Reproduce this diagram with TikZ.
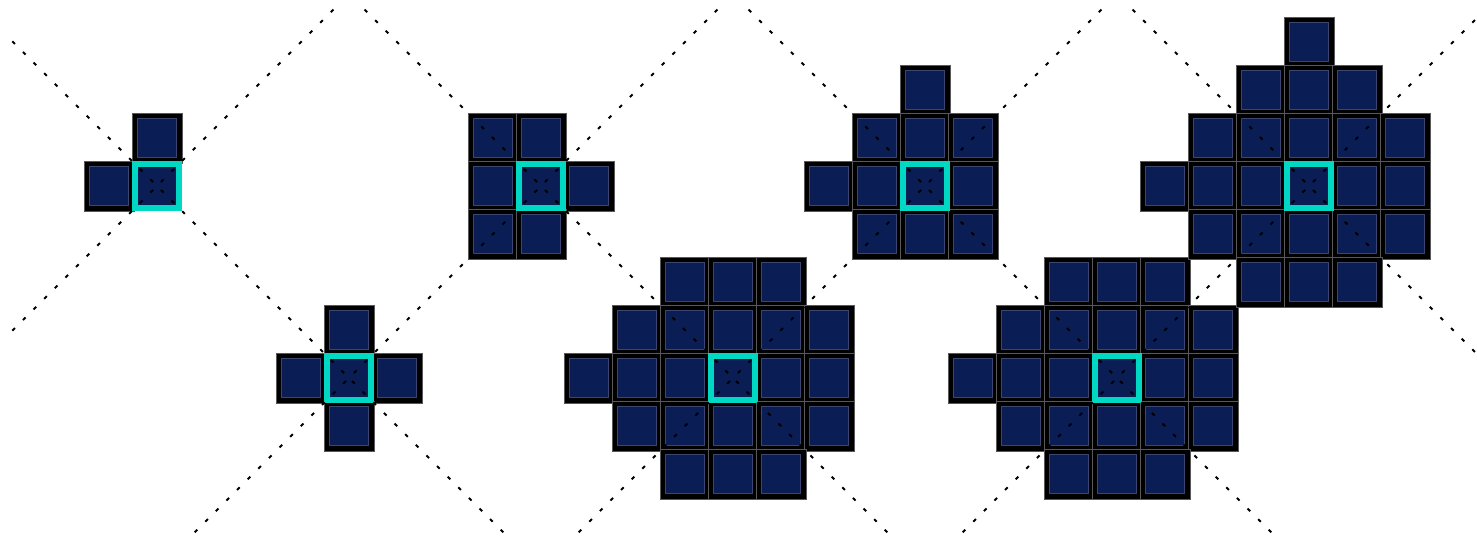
\documentclass[tikz,border=0pt]{standalone}
\usepackage{xcolor}
\usepackage{tikz}
\usetikzlibrary{positioning}

\definecolor{cellnavy}{RGB}{10,29,84}
\definecolor{celledge}{RGB}{58,70,112}
\definecolor{focus}{RGB}{0,216,196}

% offsets of the neighbour cells (x/y in cells, y up)
\newcommand{\crossnb}{0/1,-1/0,1/0,0/-1}
\newcommand{\hooknb}{-1/1,0/1,-1/0,1/0,-1/-1,0/-1}
\newcommand{\kitenb}{0/2,-1/1,0/1,1/1,-2/0,-1/0,1/0,-1/-1,0/-1,1/-1}
\newcommand{\blobnb}{-1/2,0/2,1/2,-2/1,-1/1,0/1,1/1,2/1,-3/0,-2/0,-1/0,1/0,2/0,-2/-1,-1/-1,0/-1,1/-1,2/-1,-1/-2,0/-2,1/-2}

\begin{document}
\begin{tikzpicture}[
    cell/.style={rectangle, draw=gray!70!black, line width=0.3pt, fill=black, minimum size=1.04cm, inner sep=0pt,
        path picture={\draw[fill=cellnavy, draw=celledge, line width=0.3pt]
            ([shift={(0.11,0.11)}]path picture bounding box.south west) rectangle
            ([shift={(-0.11,-0.11)}]path picture bounding box.north east);}},
    focuscell/.style={rectangle, fill=focus, minimum size=1.06cm, inner sep=0pt,
        path picture={\fill[cellnavy]
            ([shift={(0.125,0.125)}]path picture bounding box.south west) rectangle
            ([shift={(-0.125,-0.125)}]path picture bounding box.north east);}},
    guide/.style={line width=1.2pt, dash pattern=on 2.2pt off 6.7pt, dash phase=5.55pt}
]
\useasboundingbox (-3.2708,-7.3542) rectangle (27.5,3.875);

% Shape 1
\foreach \dx/\dy [count=\i] in {0/1,-1/0}
    \node[cell] (a\i) at (\dx,\dy) {};
\node[focuscell] (g0) at (0,0) {};

% Shape 2
\begin{scope}[shift={(4,-4)}]
\foreach \dx/\dy [count=\i] in \crossnb
    \node[cell] (b\i) at (\dx,\dy) {};
\node[focuscell] (g1) at (0,0) {};
\end{scope}

% Shape 3
\begin{scope}[shift={(8,0)}]
\foreach \dx/\dy [count=\i] in \hooknb
    \node[cell] (c\i) at (\dx,\dy) {};
\node[focuscell] (g2) at (0,0) {};
\end{scope}

% Shape 4
\begin{scope}[shift={(12,-4)}]
\foreach \dx/\dy [count=\i] in \blobnb
    \node[cell] (d\i) at (\dx,\dy) {};
\node[focuscell] (g3) at (0,0) {};
\end{scope}

% Shape 5
\begin{scope}[shift={(16,0)}]
\foreach \dx/\dy [count=\i] in \kitenb
    \node[cell] (e\i) at (\dx,\dy) {};
\node[focuscell] (g4) at (0,0) {};
\end{scope}

% Shape 6
\begin{scope}[shift={(20,-4)}]
\foreach \dx/\dy [count=\i] in \blobnb
    \node[cell] (f\i) at (\dx,\dy) {};
\node[focuscell] (g5) at (0,0) {};
\end{scope}

% Shape 7
\begin{scope}[shift={(24,0)}]
\node[cell] (h0) at (0,3) {};
\foreach \dx/\dy [count=\i] in \blobnb
    \node[cell] (h\i) at (\dx,\dy) {};
\node[focuscell] (g6) at (0,0) {};
\end{scope}

% Diagonal guides
\begin{scope}
\clip (-3.0625,-7.27) rectangle (27.6,3.71);
\foreach \g in {g0,g2,g4,g6} {
    \draw[guide] (\g.center) -- ++(13,13);
    \draw[guide] (\g.center) -- ++(13,-13);
    \draw[guide] (\g.center) -- ++(-13,13);
    \draw[guide] (\g.center) -- ++(-13,-13);
}
\end{scope}
\end{tikzpicture}
\end{document}
